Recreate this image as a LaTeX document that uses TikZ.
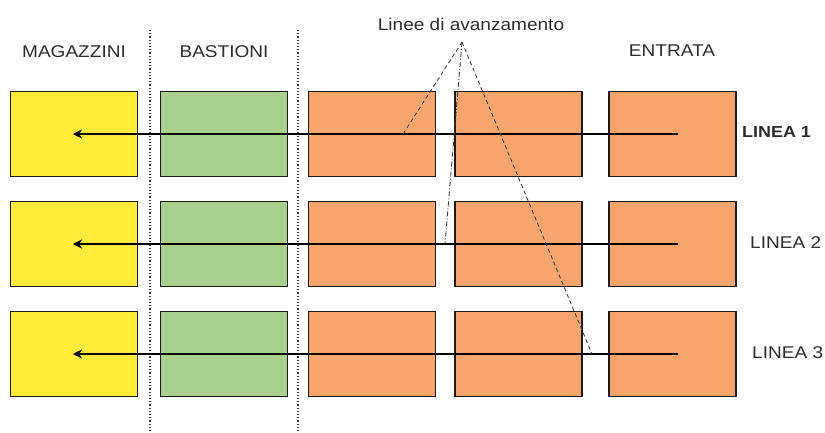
\documentclass[tikz,border=0pt]{standalone}
\usepackage{fontspec}
\usetikzlibrary{arrows.meta}
\setmainfont{Liberation Sans}
\newfontfamily\labfont[FakeStretch=1.12]{Liberation Sans}
\definecolor{magcol}{RGB}{255,236,58}
\definecolor{bascol}{RGB}{169,208,142}
\definecolor{entcol}{RGB}{247,165,108}
\definecolor{txtcol}{RGB}{45,45,45}
\definecolor{edgecol}{RGB}{30,25,25}
\tikzset{
  cell/.style={draw=edgecol, line width=1.3pt, minimum width=127pt, minimum height=85pt, inner sep=0pt},
  magcell/.style={cell, fill=magcol},
  bascell/.style={cell, fill=bascol},
  entcell/.style={cell, fill=entcol},
  lbl/.style={text=txtcol, font=\labfont\fontsize{17}{19}\selectfont, inner sep=0pt},
  flow/.style={line width=2.6pt, draw=black, -{Stealth[length=9pt,width=9pt]}},
  divider/.style={line width=1.2pt, dotted, draw=black!80},
  leader/.style={line width=0.9pt, draw=black!75, dash pattern=on 4pt off 3pt},
  leaderdot/.style={line width=0.9pt, draw=black!75, dash pattern=on 5pt off 2pt on 1pt off 2pt},
}
\begin{document}
\begin{tikzpicture}[x=1pt,y=-1pt]
\useasboundingbox (0,0) rectangle (825,432);
\fill[white] (0,0) rectangle (825,432);

% column dividers
\coordinate (d1t) at (150,30);
\coordinate (d1b) at (150,432);
\coordinate (d2t) at (298,30);
\coordinate (d2b) at (298,432);
\draw[divider] (d1t) -- (d1b);
\draw[divider] (d2t) -- (d2b);

% column headings
\node[lbl] (hmag) at (74,52) {MAGAZZINI};
\node[lbl] (hbas) at (224,52) {BASTIONI};
\node[lbl] (hent) at (672,51) {ENTRATA};
\node[lbl] (hlin) at (471,24) {Linee di avanzamento};

% rows of cells
\foreach \r/\y in {1/134, 2/244, 3/354} {
  \node[magcell] (m\r) at (74,\y) {};
  \node[bascell] (b\r) at (224,\y) {};
  \node[entcell] (o\r) at (372,\y) {};
  \node[entcell] (p\r) at (518.5,\y) {};
  \node[entcell] (q\r) at (672.5,\y) {};
  \coordinate (s\r) at (678,\y);
  \coordinate (e\r) at (73,\y);
  \draw[flow] (s\r) -- (e\r);
}

% row labels
\node[lbl, font=\labfont\bfseries\fontsize{16}{19}\selectfont, anchor=west] (l1) at (742,132) {LINEA 1};
\node[lbl, anchor=west] (l2) at (750,243) {LINEA 2};
\node[lbl, anchor=west] (l3) at (752,353) {LINEA 3};

% leader lines to the advancing lines
\coordinate (apex) at (462,42);
\coordinate (t1) at (403,134);
\coordinate (t2) at (445,244);
\coordinate (t3) at (592,354);
\draw[leader] (apex) -- (t1);
\draw[leaderdot] (apex) -- (t2);
\draw[leader] (apex) -- (t3);
\end{tikzpicture}
\end{document}
